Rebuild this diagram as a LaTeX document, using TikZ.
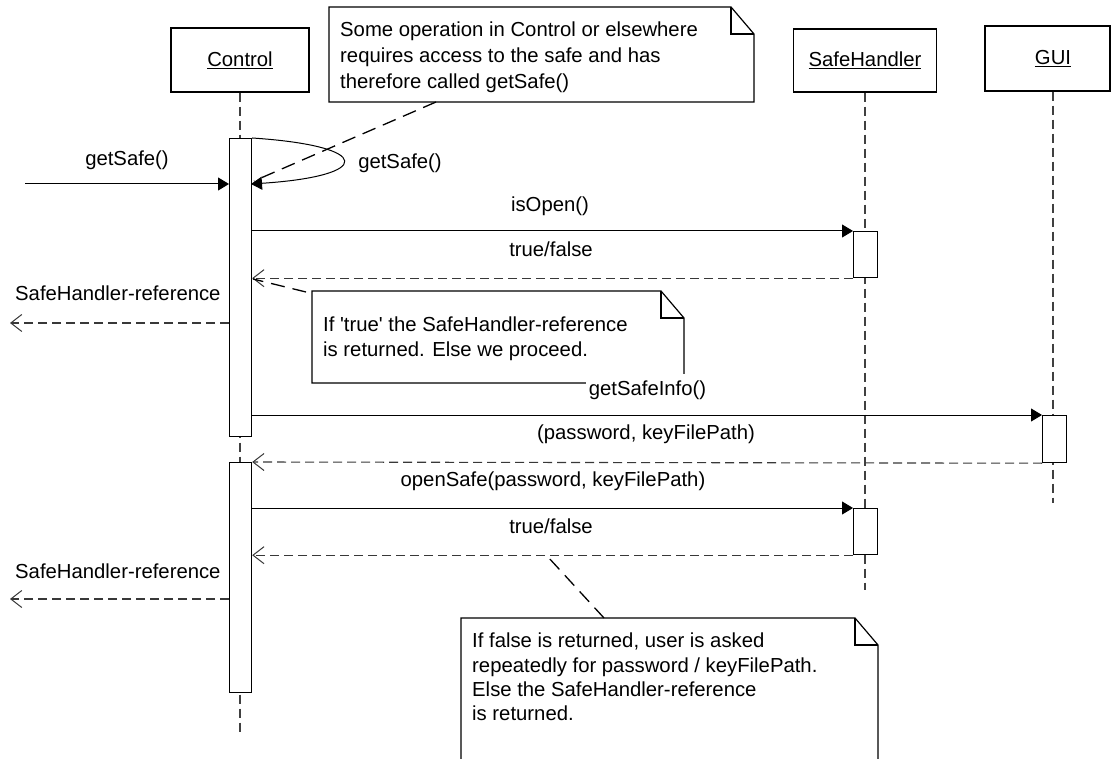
\documentclass[tikz,border=0pt]{standalone}
\usepackage{fontspec}
\newfontfamily\lsans{Liberation Sans}
\usetikzlibrary{arrows.meta}
\begin{document}
\begin{tikzpicture}[x=1pt,y=-1pt,
  font=\lsans\fontsize{20.3}{25}\selectfont,
  obj/.style={draw, fill=white, line width=1.2pt, inner sep=0pt},
  act/.style={draw, fill=white, line width=1.2pt, inner sep=0pt, anchor=north west},
  lifeline/.style={draw=black!75, line width=1.2pt, dash pattern=on 9pt off 5pt},
  msg/.style={draw, line width=1pt, -{Triangle[length=11pt,width=13pt]}},
  ret/.style={draw=black!78, line width=1.1pt, dash pattern=on 9pt off 5pt, -{Straight Barb[length=11pt,width=17pt,line width=1pt]}},
  link/.style={draw, line width=1.3pt, dash pattern=on 14pt off 8pt},
  notebox/.style={draw, fill=white, line width=1.2pt},
  lbl/.style={anchor=base, inner sep=0pt},
  txt/.style={anchor=base west, inner sep=0pt}]
\useasboundingbox (0,0) rectangle (1114,759);
\clip (0,0) rectangle (1114,759);

% objects
\node[obj, minimum width=138pt, minimum height=64pt] (control) at (240,60) {\underline{Control}};
\node[obj, minimum width=143pt, minimum height=63pt] (safeh) at (865,60.5) {\underline{SafeHandler}};
\node[obj, minimum width=125pt, minimum height=65pt] (gui) at (1047.5,58.5) {};
\node[inner sep=0pt] (guitxt) at (1053,58.5) {\underline{GUI}};

% lifelines
\coordinate (cend) at (240,735);
\coordinate (send) at (865,590);
\coordinate (gend) at (1053,503);
\draw[lifeline] (control.south) -- (cend);
\draw[lifeline] (safeh.south) -- (send);
\draw[lifeline] (guitxt |- gui.south) -- (gend);

% activations
\node[act, minimum width=22pt, minimum height=298pt] (c1) at (229,138) {};
\node[act, minimum width=22pt, minimum height=230pt] (c2) at (229,462) {};
\node[act, minimum width=24pt, minimum height=46pt] (s1) at (853,231) {};
\node[act, minimum width=24pt, minimum height=47pt] (g1) at (1042,415) {};
\node[act, minimum width=24pt, minimum height=46pt] (s2) at (853,508) {};

% messages
\coordinate (in1) at (25,184);
\draw[msg] (in1) -- (in1 -| c1.west);
\node[lbl] (lgs) at (127,166) {getSafe()};
\coordinate (selfend) at (251,184);
\draw[msg] (c1.north east) .. controls (374,146) and (374,176) .. (selfend);
\node[lbl] (lself) at (400,169) {getSafe()};

\draw[msg] (c1.east |- s1.north) -- (s1.north west);
\node[lbl] (lio) at (550,212) {isOpen()};
\draw[ret] (s1.south west) -- (c1.east |- s1.south);
\node[lbl] (ltf1) at (551,257) {true/false};
\coordinate (out1) at (10,323);
\draw[ret] (c1.west |- out1) -- (out1);
\node[txt] (lsr1) at (15,301) {SafeHandler-reference};

\draw[msg] (c1.east |- g1.north) -- (g1.north west);
\draw[ret] (g1.south west) -- (c2.north east);
\node[lbl] (lpk) at (646,439) {(password, keyFilePath)};
\draw[msg] (c2.east |- s2.north) -- (s2.north west);
\node[lbl] (los) at (553,486) {openSafe(password, keyFilePath)};
\draw[ret] (s2.south west) -- (c2.east |- s2.south);
\node[lbl] (ltf2) at (551,533) {true/false};
\coordinate (out2) at (10,599);
\draw[ret] (c2.west |- out2) -- (out2);
\node[txt] (lsr2) at (15,578) {SafeHandler-reference};

% note 1
\draw[notebox] (329,7) -- (731,7) -- (754,34) -- (754,102) -- (329,102) -- cycle;
\draw[line width=1.2pt] (731,7) -- (731,34) -- (754,34);
\node[txt] (n1a) at (340,37) {Some operation in Control or elsewhere};
\node[txt] (n1b) at (340,63) {requires access to the safe and has};
\node[txt] (n1c) at (340,89) {therefore called getSafe()};
\coordinate (n1p) at (436,102);
\coordinate (n1q) at (254,181);
\draw[link] (n1p) -- (n1q);

% note 2
\draw[notebox] (312,291) -- (661,291) -- (684,318) -- (684,383) -- (312,383) -- cycle;
\draw[line width=1.2pt] (661,291) -- (661,318) -- (684,318);
\node[txt] (n2a) at (323,331) {If 'true' the SafeHandler-reference};
\node[txt] (n2b) at (323,356) {is returned. Else we proceed.};
\coordinate (n2p) at (306,292);
\coordinate (n2q) at (253,279);
\draw[link] (n2p) -- (n2q);
\node[lbl, fill=white, inner xsep=3pt, inner ysep=6pt] (lgsi) at (647.5,395) {getSafeInfo()};

% note 3
\draw[notebox] (461,775) -- (461,618) -- (855,618) -- (878,645) -- (878,775);
\draw[line width=1.2pt] (855,618) -- (855,645) -- (878,645);
\node[txt] (n3a) at (472,647) {If false is returned, user is asked};
\node[txt] (n3b) at (472,672) {repeatedly for password / keyFilePath.};
\node[txt] (n3c) at (472,696) {Else the SafeHandler-reference};
\node[txt] (n3d) at (472,720) {is returned.};
\coordinate (n3p) at (604,618);
\coordinate (n3q) at (548,557);
\draw[link] (n3p) -- (n3q);
\end{tikzpicture}
\end{document}
